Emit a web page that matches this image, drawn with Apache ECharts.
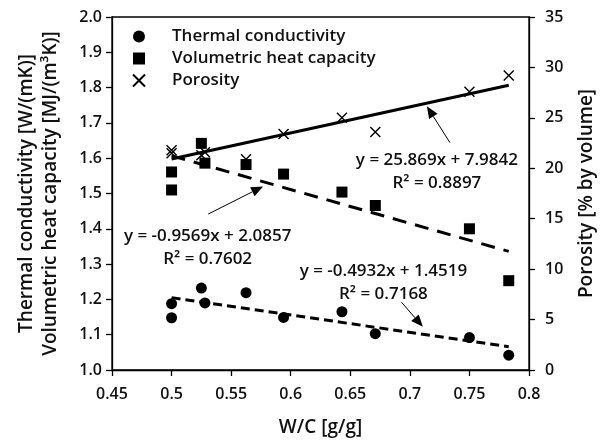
<!DOCTYPE html>
<html><head><meta charset="utf-8">
<script src="https://cdn.jsdelivr.net/npm/echarts@6/dist/echarts.min.js"></script>
<style>html,body{margin:0;padding:0;background:#fff}#c{width:608px;height:445px}</style>
</head><body><div id="c"></div>
<script>
// ---- data ----
const wcRatio = [0.5, 0.5, 0.525, 0.528, 0.5625, 0.594, 0.643, 0.671, 0.75, 0.783];
const thermalConductivity = [1.188, 1.148, 1.232, 1.190, 1.219, 1.149, 1.165, 1.103, 1.092, 1.042];
const volumetricHeatCapacity = [1.561, 1.510, 1.642, 1.586, 1.582, 1.555, 1.504, 1.466, 1.400, 1.253];
const porosity = [21.8, 21.5, 21.3, 21.6, 20.9, 23.4, 25.0, 23.6, 27.6, 29.2];
const trendX = [0.5, 0.783];
const thermalTrend = [1.205, 1.066];
const volumetricTrend = [1.607, 1.336];
const porosityTrend = [20.92, 28.24];
const seriesNames = ['Thermal conductivity', 'Volumetric heat capacity', 'Porosity'];
const eqPorosity = ['y = 25.869x + 7.9842', 'R\u00B2 = 0.8897'];
const eqVolumetric = ['y = -0.9569x + 2.0857', 'R\u00B2 = 0.7602'];
const eqThermal = ['y = -0.4932x + 1.4519', 'R\u00B2 = 0.7168'];

// ---- layout (annotation anchors in data coordinates) ----
const annot = [
  {lines: eqPorosity, axis: 1, at: [0.7227, 20.8], arrow: [[0.7336, 22.55], [0.7143, 26.15]]},
  {lines: eqVolumetric, axis: 0, at: [0.5303, 1.378], arrow: [[0.5307, 1.4417], [0.5768, 1.52]]},
  {lines: eqThermal, axis: 0, at: [0.6778, 1.281], arrow: [[0.6931, 1.1917], [0.7109, 1.1222]]}
];

const FONT = '"Open Sans", "Liberation Sans", sans-serif';
const TXT = '#111';
const crossPath = 'path://M0,0 L10,10 M10,0 L0,10';

function pts(xs, ys) { return xs.map((x, i) => [x, ys[i]]); }

const chart = echarts.init(document.getElementById('c'), null, {renderer: 'canvas'});
const axisLine = {show: true, lineStyle: {color: '#000', width: 1.3}};
const axisTick = {show: true, length: 6, inside: false, lineStyle: {color: '#000', width: 1.3}};
const labelStyle = {color: TXT, fontFamily: FONT, fontSize: 16, fontWeight: 600};
const nameStyle = {color: TXT, fontFamily: FONT, fontSize: 19, fontWeight: 600, lineHeight: 24};

chart.setOption({
  animation: false,
  backgroundColor: '#fff',
  grid: {left: 112, right: 79, top: 17, bottom: 68, show: true, borderColor: '#000', borderWidth: 1.3, backgroundColor: 'transparent'},
  legend: {
    data: seriesNames,
    orient: 'vertical', left: 127, top: 23,
    itemWidth: 12, itemHeight: 12, itemGap: 5,
    textStyle: {color: TXT, fontFamily: FONT, fontSize: 17, fontWeight: 600, lineHeight: 17, padding: [0, 0, 0, 22]}
  },
  xAxis: {
    type: 'value', min: 0.45, max: 0.8, interval: 0.05,
    name: 'W/C [g/g]', nameLocation: 'middle', nameGap: 46, nameTextStyle: nameStyle,
    axisLine, axisTick, splitLine: {show: false},
    axisLabel: Object.assign({margin: 16, formatter: v => String(+v.toFixed(2))}, labelStyle)
  },
  yAxis: [{
    type: 'value', min: 1.0, max: 2.0, interval: 0.1, position: 'left',
    name: 'Thermal conductivity [W/(mK)]\nVolumetric heat capacity [MJ/(m\u00B3K)]',
    nameLocation: 'middle', nameGap: 49, nameRotate: 90, nameTextStyle: nameStyle,
    axisLine, axisTick, splitLine: {show: false},
    axisLabel: Object.assign({margin: 10, formatter: v => v.toFixed(1)}, labelStyle)
  }, {
    type: 'value', min: 0, max: 35, interval: 5, position: 'right',
    name: 'Porosity [% by volume]',
    nameLocation: 'middle', nameGap: 46, nameRotate: 90, nameTextStyle: nameStyle,
    axisLine, axisTick, splitLine: {show: false},
    axisLabel: Object.assign({margin: 16}, labelStyle)
  }],
  series: [
    {name: seriesNames[0], type: 'scatter', yAxisIndex: 0, symbol: 'circle', symbolSize: 11,
      itemStyle: {color: '#000', opacity: 1}, data: pts(wcRatio, thermalConductivity), z: 3},
    {name: seriesNames[1], type: 'scatter', yAxisIndex: 0, symbol: 'rect', symbolSize: 11,
      itemStyle: {color: '#000', opacity: 1}, data: pts(wcRatio, volumetricHeatCapacity), z: 3},
    {name: seriesNames[2], type: 'scatter', yAxisIndex: 1, symbol: crossPath, symbolSize: 10,
      itemStyle: {color: 'rgba(0,0,0,0)', borderColor: '#000', borderWidth: 1.4, opacity: 1}, data: pts(wcRatio, porosity), z: 3},
    {name: 'tc-trend', type: 'line', yAxisIndex: 0, symbol: 'none', silent: true, z: 4,
      lineStyle: {color: '#000', width: 3, type: [9, 5]}, data: pts(trendX, thermalTrend)},
    {name: 'vhc-trend', type: 'line', yAxisIndex: 0, symbol: 'none', silent: true, z: 4,
      lineStyle: {color: '#000', width: 3, type: [14, 9]}, data: pts(trendX, volumetricTrend)},
    {name: 'por-trend', type: 'line', yAxisIndex: 1, symbol: 'none', silent: true, z: 4,
      lineStyle: {color: '#000', width: 3}, data: pts(trendX, porosityTrend)}
  ]
});

// annotations: equations and arrows, placed from data coordinates
const g = [];
annot.forEach(a => {
  const finder = {xAxisIndex: 0, yAxisIndex: a.axis};
  const c = chart.convertToPixel(finder, a.at);
  a.lines.forEach((t, i) => {
    g.push({type: 'text', x: c[0], y: c[1] + i * 23, z: 10, silent: true,
      style: {text: t, fill: TXT, font: '600 17px ' + FONT, textAlign: 'center', textVerticalAlign: 'middle'}});
  });
  const p0 = chart.convertToPixel(finder, a.arrow[0]);
  const p1 = chart.convertToPixel(finder, a.arrow[1]);
  const dx = p1[0] - p0[0], dy = p1[1] - p0[1];
  const L = Math.hypot(dx, dy), ux = dx / L, uy = dy / L;
  const hl = 12, hw = 5;
  const bx = p1[0] - ux * hl, by = p1[1] - uy * hl;
  g.push({type: 'line', z: 10, silent: true, shape: {x1: p0[0], y1: p0[1], x2: bx, y2: by}, style: {stroke: '#000', lineWidth: 1}});
  g.push({type: 'polygon', z: 10, silent: true, shape: {points: [[p1[0], p1[1]], [bx - uy * hw, by + ux * hw], [bx + uy * hw, by - ux * hw]]}, style: {fill: '#000'}});
});
chart.setOption({graphic: g});
</script></body></html>
